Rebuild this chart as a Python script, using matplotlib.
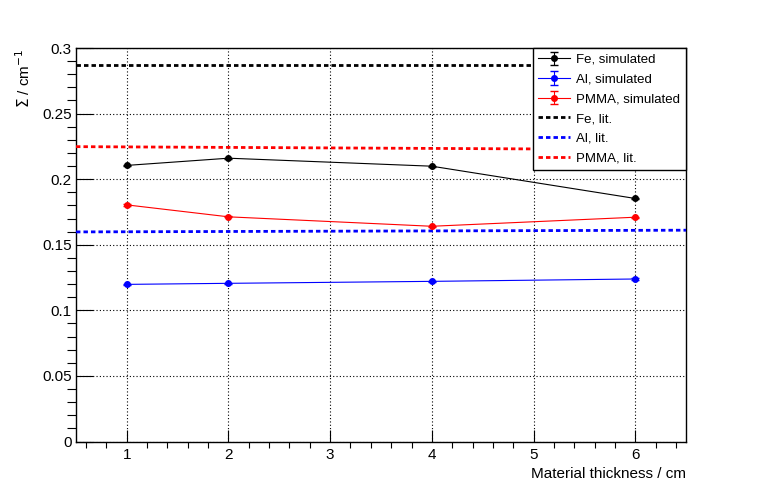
import matplotlib
matplotlib.use("Agg")
import matplotlib.pyplot as plt
from matplotlib.ticker import MultipleLocator

plt.rcParams['font.family'] = ['Liberation Sans', 'DejaVu Sans']

# thickness in cm
thickness = [1, 2, 4, 6]

fe_sim = [0.2105, 0.2160, 0.2099, 0.1853]
al_sim = [0.1198, 0.1206, 0.1221, 0.1239]
pmma_sim = [0.1804, 0.1713, 0.1641, 0.1710]
sim_err = [0.0005, 0.0005, 0.0005, 0.0005]

# literature values, over full x range
lit_x = [0.5, 6.5]
fe_lit = [0.2874, 0.2874]
al_lit = [0.1598, 0.1611]
pmma_lit = [0.2248, 0.2225]

y_ticks = [0, 0.05, 0.1, 0.15, 0.2, 0.25, 0.3]
y_labels = ['0', '0.05', '0.1', '0.15', '0.2', '0.25', '0.3']
x_ticks = [1, 2, 3, 4, 5, 6]

fig = plt.figure(figsize=(7.62, 4.91), dpi=100)
ax = fig.add_axes([0.0997, 0.1008, 0.8006, 0.8014])

handles = []
for vals, col, name in [(fe_sim, 'black', 'Fe'), (al_sim, 'blue', 'Al'), (pmma_sim, 'red', 'PMMA')]:
    h = ax.errorbar(thickness, vals, yerr=sim_err, color=col, marker='o', markersize=4,
                    lw=0.8, capsize=3, elinewidth=0.8, label=name + ', simulated', zorder=4)
    handles.append(h)

for vals, col, name in [(fe_lit, 'black', 'Fe'), (al_lit, 'blue', 'Al'), (pmma_lit, 'red', 'PMMA')]:
    h, = ax.plot(lit_x, vals, color=col, lw=2, dashes=(1.6, 1.1), label=name + ', lit.', zorder=3)
    handles.append(h)

ax.set_xlim(0.5, 6.5)
ax.set_ylim(0, 0.3)
ax.set_xticks(x_ticks)
ax.set_yticks(y_ticks)
ax.set_yticklabels(y_labels)
ax.xaxis.set_minor_locator(MultipleLocator(0.2))
ax.yaxis.set_minor_locator(MultipleLocator(0.01))
ax.tick_params(direction='in', labelsize=11, top=False, right=False, width=0.8)
ax.tick_params(axis='x', which='major', length=9, pad=5)
ax.tick_params(axis='x', which='minor', length=4.5, width=0.8)
ax.tick_params(axis='y', which='major', length=12, pad=3)
ax.tick_params(axis='y', which='minor', length=6.5, width=0.8)
ax.grid(True, which='major', color='black', linestyle=(0, (1, 2)), lw=0.8)
for s in ax.spines.values():
    s.set_linewidth(1)

ax.set_xlabel('Material thickness / cm', fontsize=11, loc='right')
ax.xaxis.set_label_coords(1.0, -0.065)
ax.set_ylabel('$\\Sigma$ / cm$^{-1}$', fontsize=11, loc='top')
ax.yaxis.set_label_coords(-0.07, 1.0)

leg = ax.legend(handles=handles, loc='upper right', bbox_to_anchor=(1.0, 1.0), borderaxespad=0,
                fancybox=False, edgecolor='black', framealpha=1, fontsize=9.5,
                labelspacing=0.57, handlelength=2.4, handletextpad=0.5, borderpad=0.42)
leg.get_frame().set_linewidth(1)

fig.savefig('out.png', dpi=100)
